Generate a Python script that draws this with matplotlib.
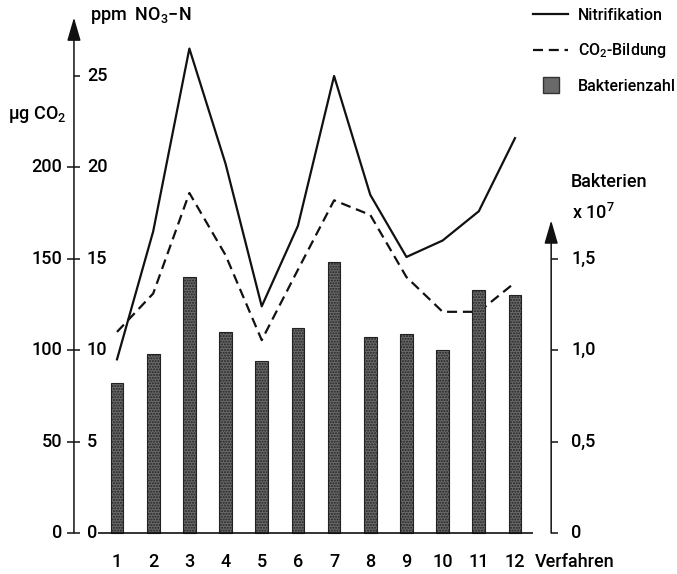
import matplotlib
matplotlib.use("Agg")
import matplotlib.pyplot as plt
from matplotlib.lines import Line2D

FONT = ["Roboto", "DejaVu Sans"]
plt.rcParams.update({
    "font.family": FONT,
    "font.size": 13,
    "font.weight": "medium",
    "mathtext.fontset": "custom",
    "mathtext.rm": "Roboto:medium",
    "mathtext.it": "Roboto:medium",
    "mathtext.bf": "Roboto:bold",
})

INK = "#111111"
BAR_C = "#6a6a6a"

# data (all on the ppm scale: CO2 in ug / 10, bacteria in 1e7 * 10)
verfahren = list(range(1, 13))
nitrifikation = [9.5, 16.5, 26.5, 20.2, 12.4, 16.8, 25.0, 18.5, 15.1, 16.0, 17.6, 21.6]   # ppm NO3-N
co2_bildung = [110, 131, 186, 152, 105.5, 144, 182, 174, 140, 121, 121, 137]             # ug CO2
bakterien = [0.82, 0.98, 1.40, 1.10, 0.94, 1.12, 1.48, 1.07, 1.09, 1.00, 1.33, 1.30]    # x 1e7

ppm_ticks = [0, 5, 10, 15, 20, 25]
co2_ticks = [0, 50, 100, 150, 200]
bak_ticks = [0, 0.5, 1.0, 1.5]
bak_labels = ["0", "0,5", "1,0", "1,5"]

co2_scaled = [v / 10 for v in co2_bildung]
bak_scaled = [v * 10 for v in bakterien]

fig = plt.figure(figsize=(6.77, 5.74), dpi=100)
ax = fig.add_axes([0, 0, 1, 1])
ax.set_xlim(-2.234, 16.478)
ax.set_ylim(-2.243, 29.157)
ax.axis("off")

PX = 1 / 36.18          # one pixel in x data units
LEFT_X = -0.19
RIGHT_X = 13.0

# series
ax.plot(verfahren, nitrifikation, color=INK, lw=1.6, zorder=2)
ax.plot(verfahren, co2_scaled, color=INK, lw=1.6, dashes=(4.5, 2.6), zorder=2)
ax.bar(verfahren, bak_scaled, width=0.35, color=BAR_C, edgecolor="#222222",
       linewidth=0.8, hatch="......", zorder=3)
ax.hlines(0, 0.475, 12.5, color=INK, lw=1.2, zorder=4)

# left axis (ppm NO3-N and ug CO2 share the line)
ax.annotate("", xy=(LEFT_X, 28.2), xytext=(LEFT_X, 0),
            arrowprops=dict(arrowstyle="-|>,head_length=1.1,head_width=0.32",
                            color=INK, lw=1.1, shrinkA=0, shrinkB=0))
for t in ppm_ticks:
    ax.hlines(t, LEFT_X, LEFT_X + 6 * PX, color=INK, lw=1.1)
    ax.text(LEFT_X + 13 * PX, t, str(t), ha="left", va="center")
for t in co2_ticks:
    ax.hlines(t / 10, LEFT_X - 7 * PX, LEFT_X, color=INK, lw=1.1)
    ax.text(LEFT_X - 12 * PX, t / 10, str(t), ha="right", va="center")

ax.text(LEFT_X + 16 * PX, 28.3, "ppm  NO$_3$−N", ha="left", va="center")
ax.text(LEFT_X - 66 * PX, 22.9, "µg CO$_2$", ha="left", va="center")

# right axis (bacteria)
ax.annotate("", xy=(RIGHT_X, 17.1), xytext=(RIGHT_X, 0),
            arrowprops=dict(arrowstyle="-|>,head_length=1.1,head_width=0.32",
                            color=INK, lw=1.1, shrinkA=0, shrinkB=0))
for t, lab in zip(bak_ticks, bak_labels):
    ax.hlines(t * 10, RIGHT_X, RIGHT_X + 7 * PX, color=INK, lw=1.1)
    ax.text(RIGHT_X + 20 * PX, t * 10, lab, ha="left", va="center")
ax.text(RIGHT_X + 20 * PX, 19.2, "Bakterien", ha="left", va="center")
ax.text(RIGHT_X + 21 * PX, 17.5, "x 10$^7$", ha="left", va="center")

# x categories
for v in verfahren:
    ax.text(v, -1.6, str(v), ha="center", va="center")
ax.text(12.55, -1.6, "Verfahren", ha="left", va="center")

# legend
handles = [
    Line2D([], [], color=INK, lw=1.6),
    Line2D([], [], color=INK, lw=1.6, dashes=(4.5, 2.6)),
    Line2D([], [], color=BAR_C, marker="s", markersize=11, linestyle="none",
           markeredgecolor="#333333"),
]
labels = ["Nitrifikation", "CO$_2$-Bildung", "Bakterienzahl"]
fig.legend(handles, labels, loc="upper left", bbox_to_anchor=(533 / 677, 1 - 8 / 574),
           frameon=False, borderpad=0, borderaxespad=0, fontsize=11.5,
           handlelength=2.2, handletextpad=0.6, labelspacing=1.15)

fig.savefig("out.png", dpi=100, facecolor="white")
